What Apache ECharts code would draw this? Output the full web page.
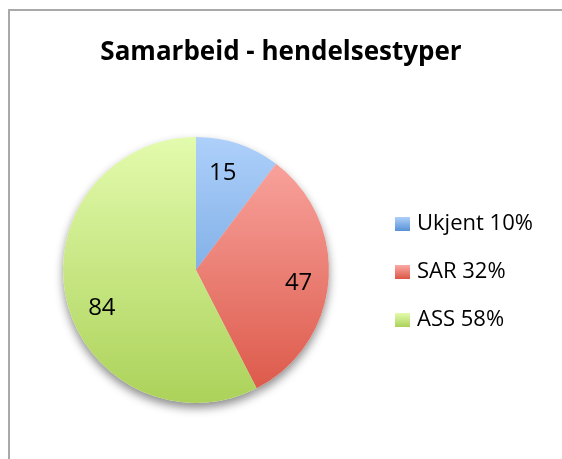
<!DOCTYPE html>
<html lang="no">
<head>
    <meta charset="UTF-8">
    <title>Samarbeid - hendelsestyper</title>
    <script type="text/javascript" src="https://cdn.jsdelivr.net/npm/echarts@6/dist/echarts.min.js"></script>
    <style>
        html, body { margin: 0; padding: 0; background: #fff; overflow: hidden; }
        #frame { position: absolute; left: 8px; top: 9px; width: 640px; height: 500px;
                 border-left: 2px solid #a9a9a9; border-top: 2px solid #a9a9a9; }
    </style>
</head>
<body>
<div id="frame"></div>
<div id="main" style="position: absolute; left: 0; top: 0; width: 562px; height: 459px;"></div>
<script type="text/javascript">
    var titleText = 'Samarbeid - hendelsestyper';
    var categories = ['Ukjent', 'SAR', 'ASS'];
    var values = [15, 47, 84];
    var topColors = ['#aed0fa', '#fbaaa5', '#e3fbad'];
    var bottomColors = ['#5792d6', '#db5646', '#acd25a'];
    // small nudges for the value labels, like Excel's own placement
    var labelOffsets = [[-6, 1], [0, 4], [6, 14]];

    var total = values.reduce(function (a, b) { return a + b; }, 0);
    var font = 'Open Sans';

    function grad(i, global) {
        if (global) {
            return new echarts.graphic.LinearGradient(0, 137, 0, 403, [
                { offset: 0, color: topColors[i] },
                { offset: 1, color: bottomColors[i] }
            ], true);
        }
        return new echarts.graphic.LinearGradient(0, 0, 0, 1, [
            { offset: 0, color: topColors[i] },
            { offset: 1, color: bottomColors[i] }
        ]);
    }

    var pieData = categories.map(function (name, i) {
        return { name: name, value: values[i], itemStyle: { color: grad(i, true) } };
    });
    var legendData = categories.map(function (name, i) {
        return { name: name, itemStyle: { color: grad(i, false) } };
    });

    var myChart = echarts.init(document.getElementById('main'));
    var option = {
        animation: false,
        title: {
            text: titleText,
            left: 'center',
            top: 35,
            textStyle: { fontFamily: font, fontWeight: 'bold', fontSize: 26, color: '#000' }
        },
        legend: {
            orient: 'vertical',
            left: 390,
            top: 208,
            itemWidth: 15,
            itemHeight: 14,
            itemGap: 26,
            icon: 'rect',
            data: legendData,
            textStyle: { fontFamily: font, fontSize: 22, color: '#000', padding: [0, 0, 0, 2] },
            formatter: function (name) {
                var v = values[categories.indexOf(name)];
                return name + ' ' + Math.round(v / total * 100) + '%';
            }
        },
        series: [
            {
                type: 'pie',
                center: [196, 270],
                radius: [0, 133],
                startAngle: 90,
                clockwise: true,
                z: 2,
                label: { show: false },
                labelLine: { show: false },
                itemStyle: { borderWidth: 0 },
                data: pieData
            },
            {
                // backdrop that carries the drop shadow
                type: 'pie',
                center: [196, 270],
                radius: [0, 133],
                startAngle: 90,
                clockwise: true,
                silent: true,
                z: 1,
                label: { show: false },
                labelLine: { show: false },
                itemStyle: { color: '#fff', shadowBlur: 10, shadowOffsetY: 5, shadowColor: 'rgba(0,0,0,0.45)' },
                data: values.map(function (v, i) { return { name: categories[i], value: v }; }),
                legendHoverLink: false
            },
            {
                // label ring
                type: 'pie',
                center: [196, 270],
                radius: [67, 133],
                startAngle: 90,
                clockwise: true,
                silent: true,
                z: 3,
                itemStyle: { color: 'rgba(0,0,0,0)' },
                label: {
                    show: true,
                    position: 'inside',
                    formatter: '{c}',
                    fontFamily: font,
                    fontSize: 24,
                    color: '#000'
                },
                labelLine: { show: false },
                data: values.map(function (v, i) {
                    return { name: categories[i], value: v, label: { offset: labelOffsets[i] } };
                }),
                legendHoverLink: false
            }
        ]
    };
    myChart.setOption(option);
</script>
</body>
</html>
